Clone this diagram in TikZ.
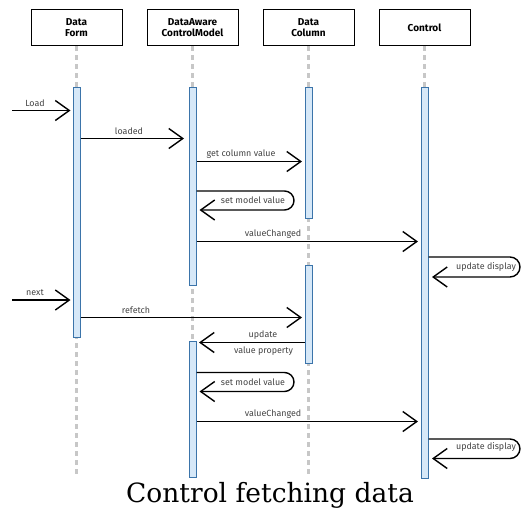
\documentclass[tikz,border=0pt]{standalone}
\usepackage{fontspec}
\setmainfont{DejaVu Serif}
\newfontfamily\lblfont{Fira Sans}
\usetikzlibrary{arrows.meta}
\definecolor{barfill}{HTML}{D6E8F8}
\definecolor{barline}{HTML}{3B74AA}
\definecolor{lblgray}{HTML}{444444}
\begin{document}
\begin{tikzpicture}[x=1pt,y=-1pt,
  head/.style={draw=black, line width=1pt, minimum width=91pt, minimum height=36pt, inner sep=0pt,
    font=\lblfont\bfseries\fontsize{10}{11}\selectfont, align=center},
  life/.style={draw=black!22, line width=2.5pt, dash pattern=on 5pt off 4pt},
  actbar/.style={draw=barline, fill=barfill, line width=1pt, minimum width=7pt, inner sep=0pt},
  msg/.style={draw=black, line width=1.4pt, shorten >=3pt,
    -{Straight Barb[length=14pt,width=20pt,line width=1.4pt]}},
  lbl/.style={font=\lblfont\fontsize{8.9}{10}\selectfont, text=lblgray, inner sep=0pt}]
\useasboundingbox (0,0) rectangle (521,509);
% headers
\node[head] (hf) at (76.5,27.5) {Data\\Form};
\node[head] (hm) at (192.5,27.5) {DataAware\\ControlModel};
\node[head] (hc) at (308.5,27.5) {Data\\Column};
\node[head] (hk) at (424.5,27.5) {Control};
% lifelines
\coordinate (ef) at (76.5,477);
\coordinate (em) at (192.5,477);
\coordinate (ec) at (308.5,477);
\draw[life] (hf.south) -- (ef);
\draw[life] (hm.south) -- (em);
\draw[life] (hc.south) -- (ec);
\draw[life] (hk.south) -- (424.5,90);
% activation bars
\node[actbar, minimum height=250pt] (fb) at (76.5,212) {};
\node[actbar, minimum height=198pt] (mb1) at (192.5,186) {};
\node[actbar, minimum height=136pt] (mb2) at (192.5,409) {};
\node[actbar, minimum height=131pt] (cb1) at (308.5,152.5) {};
\node[actbar, minimum height=98pt] (cb2) at (308.5,314) {};
\node[actbar, minimum height=391pt] (kb) at (424.5,282.5) {};
% external starts
\coordinate (s1) at (12,110.5);
\coordinate (s2) at (12,300);
% messages
\draw[msg, shorten >=2pt] (s1) -- (fb.west |- s1);
\node[lbl] (tload) at (35,103) {Load};
\draw[msg, shorten >=4.5pt] (fb.east |- 0,138.5) -- (mb1.west |- 0,138.5);
\node[lbl] (tloaded) at (129,131.5) {loaded};
\draw[msg, shorten >=2.5pt] (mb1.east |- 0,161.5) -- (cb1.west |- 0,161.5);
\node[lbl] (tget) at (241,154.5) {get column value};
\draw[msg, rounded corners=9.5pt] (mb1.east |- 0,191) -- (294,191) -- (294,210) -- (mb1.east |- 0,210);
\node[lbl] (tset1) at (253,200.5) {set model value};
\draw[msg, shorten >=2.5pt] (mb1.east |- 0,241.5) -- (kb.west |- 0,241.5);
\node[lbl] (tvc1) at (273,234.5) {valueChanged};
\draw[msg, shorten >=3.5pt, rounded corners=10pt] (kb.east |- 0,257) -- (520,257) -- (520,277) -- (kb.east |- 0,277);
\node[lbl] (tud1) at (486,266.5) {update display};
\draw[msg, shorten >=2pt] (s2) -- (fb.west |- s2);
\node[lbl] (tnext) at (35,293) {next};
\draw[msg, shorten >=2.5pt] (fb.east |- 0,317.5) -- (cb2.west |- 0,317.5);
\node[lbl] (tref) at (136,310.5) {refetch};
\draw[msg, shorten >=2.5pt] (cb2.west |- 0,342.5) -- (mb2.east |- 0,342.5);
\node[lbl] (tupd) at (263,335.5) {update};
\node[lbl] (tvp) at (263.5,351) {value property};
\draw[msg, rounded corners=9.5pt] (mb2.east |- 0,372.5) -- (294,372.5) -- (294,391.5) -- (mb2.east |- 0,391.5);
\node[lbl] (tset2) at (253,382) {set model value};
\draw[msg, shorten >=2.5pt] (mb2.east |- 0,421.5) -- (kb.west |- 0,421.5);
\node[lbl] (tvc2) at (273,414) {valueChanged};
\draw[msg, shorten >=3.5pt, rounded corners=10pt] (kb.east |- 0,439) -- (520,439) -- (520,458.5) -- (kb.east |- 0,458.5);
\node[lbl] (tud2) at (486,447) {update display};
% caption
\node[font=\fontsize{26.5}{30}\selectfont, inner sep=0pt] (cap) at (270,495) {Control fetching data};
\end{tikzpicture}
\end{document}
